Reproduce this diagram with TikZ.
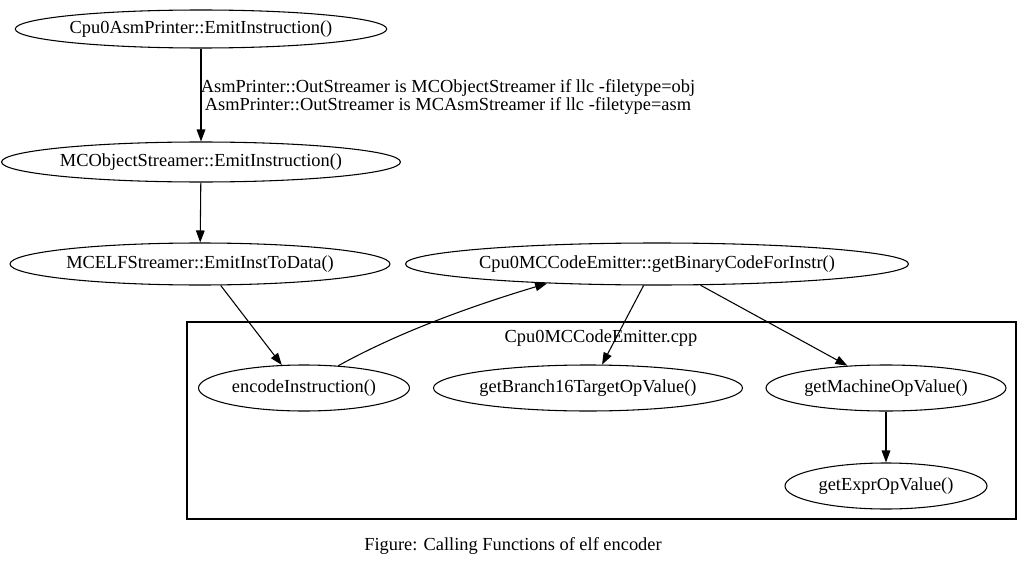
\documentclass[tikz,border=0pt]{standalone}
\usepackage{fontspec}
\setmainfont{Liberation Serif}
\usetikzlibrary{shapes.geometric,arrows.meta}
\begin{document}
\begin{tikzpicture}[x=0.75pt,y=-0.75pt,
  ell/.style 2 args={ellipse,draw,line width=0.8pt,inner sep=0pt,
    minimum width=#1*0.75pt,minimum height=#2*0.75pt,font=\fontsize{13.8}{13.5}\selectfont},
  arr/.style={line width=0.8pt,-{Triangle[length=9pt,width=6.5pt]}},
  txt/.style={inner sep=0pt,font=\fontsize{13.8}{13.5}\selectfont}]
\useasboundingbox (0,0) rectangle (1028,567);
\fill[white] (0,0) rectangle (1028,567);
% cluster
\node[draw,line width=0.9pt,inner sep=0pt,minimum width=829*0.75pt,minimum height=197*0.75pt] (cluster) at (601.5,420.5) {};
\node[txt] (clabel) at (601,338) {Cpu0MCCodeEmitter.cpp};
% nodes
\node[ell={368}{38}] (A) at (201,29) {Cpu0AsmPrinter::EmitInstruction()};
\node[ell={392}{40}] (B) at (201,162) {MCObjectStreamer::EmitInstruction()};
\node[ell={380}{42}] (C) at (200,264) {MCELFStreamer::EmitInstToData()};
\node[ell={486}{42}] (D) at (657,264) {Cpu0MCCodeEmitter::getBinaryCodeForInstr()};
\node[ell={211}{46}] (E) at (304,388) {encodeInstruction()};
\node[ell={309}{46}] (F) at (588,388) {getBranch16TargetOpValue()};
\node[ell={240}{46}] (G) at (886,388) {getMachineOpValue()};
\node[ell={202}{46}] (H) at (886,486) {getExprOpValue()};
% edges
\draw[arr] (A) -- (B);
\node[txt,align=center] (elabel) at (448,97) {AsmPrinter::OutStreamer is MCObjectStreamer if llc -filetype=obj\\AsmPrinter::OutStreamer is MCAsmStreamer if llc -filetype=asm};
\draw[arr] (B) -- (C);
\draw[arr] (C.-46) -- (E.134);
\draw[arr] (E.33) .. controls (401,331) and (475,305) .. (D.-170);
\draw[arr] (D.-122) -- (F.59);
\draw[arr] (D.-26) -- (G.150);
\draw[arr] (G) -- (H);
% caption
\node[txt] (caption) at (513,546) {Figure: Calling Functions of elf encoder};
\end{tikzpicture}
\end{document}
